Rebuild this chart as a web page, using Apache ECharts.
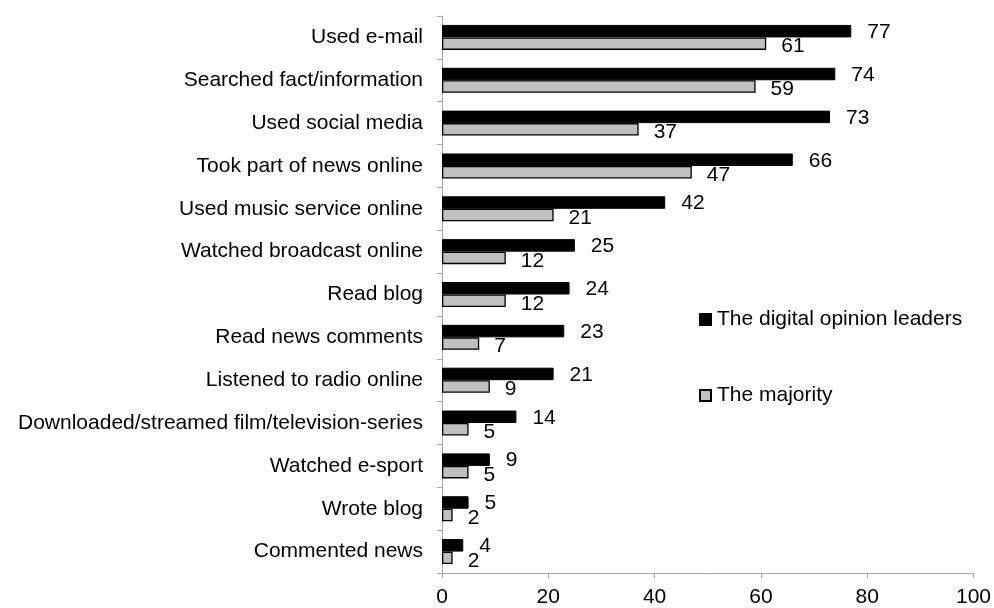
<!DOCTYPE html>
<html>
<head>
<meta charset="utf-8">
<script src="https://cdn.jsdelivr.net/npm/echarts@6/dist/echarts.min.js"></script>
<style>
  html, body { margin: 0; padding: 0; background: #fff; }
  #chart { width: 994px; height: 608px; }
</style>
</head>
<body>
<div id="chart"></div>
<script>
// Online activities, share (%) per group
const categories = [
  'Used e-mail',
  'Searched fact/information',
  'Used social media',
  'Took part of news online',
  'Used music service online',
  'Watched broadcast online',
  'Read blog',
  'Read news comments',
  'Listened to radio online',
  'Downloaded/streamed film/television-series',
  'Watched e-sport',
  'Wrote blog',
  'Commented news'
];
const leaders = [77, 74, 73, 66, 42, 25, 24, 23, 21, 14, 9, 5, 4];
const majority = [61, 59, 37, 47, 21, 12, 12, 7, 9, 5, 5, 2, 2];
const xTicks = [0, 20, 40, 60, 80, 100];

const font = 'Liberation Sans, Arial, sans-serif';
const fontSize = 21;
const chart = echarts.init(document.getElementById('chart'));

chart.setOption({
  animation: false,
  backgroundColor: '#fff',
  grid: { left: 442, right: 20, top: 16, bottom: 35, containLabel: false },
  legend: {
    orient: 'vertical',
    left: 699,
    top: 309,
    padding: 0,
    itemWidth: 11,
    itemHeight: 11,
    itemGap: 55,
    icon: 'rect',
    textStyle: { fontFamily: font, fontSize: fontSize, color: '#000', padding: [0, 0, 0, 1] },
    data: ['The digital opinion leaders', 'The majority']
  },
  xAxis: {
    type: 'value',
    min: xTicks[0],
    max: xTicks[xTicks.length - 1],
    interval: 20,
    splitLine: { show: false },
    axisLine: { show: true, lineStyle: { color: '#a6a6a6', width: 1 } },
    axisTick: { show: true, length: 5, lineStyle: { color: '#a6a6a6' } },
    axisLabel: { fontFamily: font, fontSize: fontSize, color: '#000', margin: 14 }
  },
  yAxis: {
    type: 'category',
    inverse: true,
    data: categories,
    axisLine: { show: true, lineStyle: { color: '#a6a6a6', width: 1 } },
    axisTick: { show: true, length: 5, lineStyle: { color: '#a6a6a6' } },
    axisLabel: { fontFamily: font, fontSize: fontSize, color: '#000', margin: 19 }
  },
  series: [
    {
      name: 'The digital opinion leaders',
      type: 'bar',
      data: leaders,
      barWidth: 12.5,
      barGap: '0%',
      itemStyle: { color: '#000', borderColor: '#000', borderWidth: 1 },
      label: {
        show: true, position: 'right', distance: 16,
        fontFamily: font, fontSize: fontSize, color: '#000', offset: [0, 1]
      }
    },
    {
      name: 'The majority',
      type: 'bar',
      data: majority,
      barWidth: 12.5,
      barGap: '0%',
      itemStyle: { color: '#c0c0c0', borderColor: '#000', borderWidth: 1.3 },
      label: {
        show: true, position: 'right', distance: 15,
        fontFamily: font, fontSize: fontSize, color: '#000', offset: [0, 3]
      }
    }
  ]
});
</script>
</body>
</html>
